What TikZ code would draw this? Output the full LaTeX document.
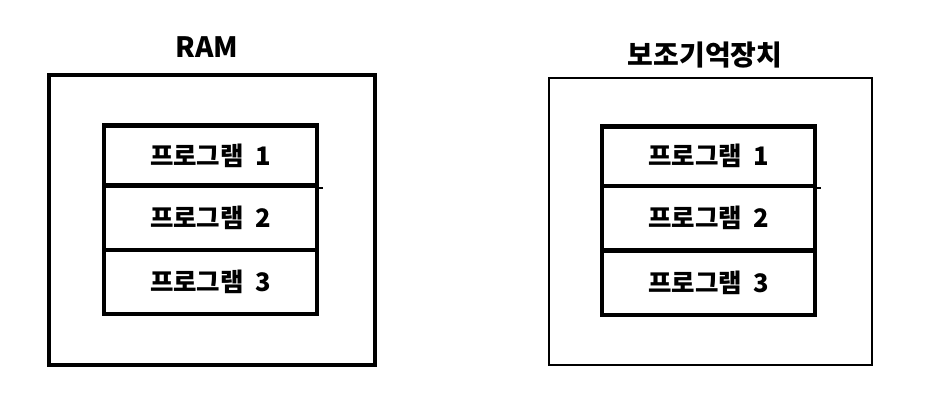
\documentclass[tikz,border=0pt]{standalone}
\usepackage{fontspec}
\setmainfont{Noto Sans CJK KR}
\newcommand{\prog}[1]{프로그램\hspace{0.45em}#1}
\begin{document}
\begin{tikzpicture}[x=1pt,y=1pt,
  outerthick/.style={draw=black,line width=4pt,inner sep=0pt},
  outerthin/.style={draw=black,line width=2pt,inner sep=0pt},
  cell/.style={draw=black,line width=4.2pt,inner sep=0pt,minimum width=213pt,
     font=\fontsize{25.5}{28}\selectfont\bfseries},
  title/.style={inner sep=0pt,font=\fontsize{28}{32}\selectfont\bfseries}]
\useasboundingbox (0,0) rectangle (940,419);
% left (RAM)
\node[outerthick,minimum width=326pt,minimum height=290pt] (ram) at (212,198.5) {};
\node[title] (ramt) at (207,372) {RAM};
\node[cell,minimum height=60pt] (l1) at (210.5,263.5) {\prog{1}};
\node[cell,minimum height=64.5pt] (l2) at (210.5,201.25) {\prog{2}};
\node[cell,minimum height=64pt] (l3) at (210.5,137) {\prog{3}};
\coordinate (l1stub) at ([xshift=4pt]l1.south east);
\draw[line width=2pt] (l1.south east) -- (l1stub);
% right (secondary storage)
\node[outerthin,minimum width=323pt,minimum height=287pt] (sec) at (710.5,197.5) {};
\node[title] (sect) at (705,364) {보조기억장치};
\node[cell,minimum height=59.5pt] (r1) at (708.75,262.75) {\prog{1}};
\node[cell,minimum height=64.5pt] (r2) at (708.75,200.75) {\prog{2}};
\node[cell,minimum height=64.5pt] (r3) at (708.75,136.25) {\prog{3}};
\coordinate (r1stub) at ([xshift=4pt]r1.south east);
\draw[line width=2pt] (r1.south east) -- (r1stub);
\end{tikzpicture}
\end{document}
